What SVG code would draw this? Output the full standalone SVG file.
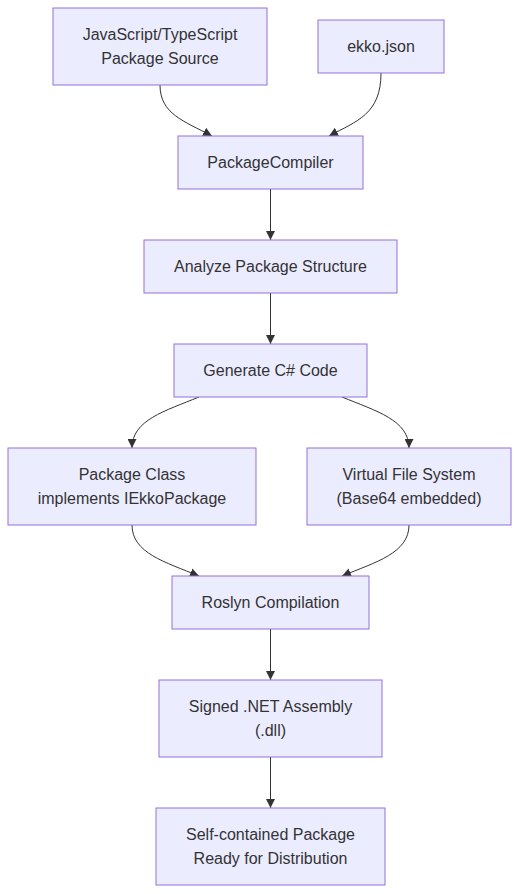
<svg xmlns="http://www.w3.org/2000/svg" width="520" height="894" viewBox="0 0 520 894">
<style>
.n rect{fill:#ECECFF;stroke:#9370DB;stroke-width:1}
.n text{font-family:"Liberation Sans",Arial,sans-serif;font-size:16px;fill:#333;text-anchor:middle}
.e path{fill:none;stroke:#333;stroke-width:1;marker-end:url(#arr)}
</style>
<defs>
<marker id="arr" viewBox="0 0 10 10" refX="10" refY="5" markerUnits="userSpaceOnUse" markerWidth="9" markerHeight="9" orient="auto">
<path d="M0,0 L10,5 L0,10 z" fill="#333"/>
</marker>
</defs>
<rect width="520" height="894" fill="#fff"/>
<g class="e" id="connectors">
<path d="M160,85 C160,114 184,121 212,136"/>
<path d="M381,73 C381,114 357,121 329,136"/>
<path d="M270.5,189 L270.5,240"/>
<path d="M270.5,293 L270.5,344"/>
<path d="M199,397 C165,411 132,420 132,448"/>
<path d="M342,397 C376,411 409,420 409,448"/>
<path d="M132,525 C132,553 165,562 199,576"/>
<path d="M409,525 C409,553 376,562 342,576"/>
<path d="M270.5,629 L270.5,680"/>
<path d="M270.5,757 L270.5,808"/>
</g>
<g class="n" id="nA"><rect x="53" y="8" width="214" height="77"/><text x="160" y="40">JavaScript/TypeScript</text><text x="160" y="64">Package Source</text></g>
<g class="n" id="nB"><rect x="318" y="20" width="126" height="53"/><text x="381" y="52">ekko.json</text></g>
<g class="n" id="nC"><rect x="178" y="136" width="185" height="53"/><text x="270.5" y="168">PackageCompiler</text></g>
<g class="n" id="nD"><rect x="144" y="240" width="253" height="53"/><text x="270.5" y="272">Analyze Package Structure</text></g>
<g class="n" id="nE"><rect x="174" y="344" width="193" height="53"/><text x="270.5" y="376">Generate C# Code</text></g>
<g class="n" id="nF"><rect x="8" y="448" width="248" height="77"/><text x="132" y="480">Package Class</text><text x="132" y="504">implements IEkkoPackage</text></g>
<g class="n" id="nG"><rect x="307" y="448" width="204" height="77"/><text x="409" y="480">Virtual File System</text><text x="409" y="504">(Base64 embedded)</text></g>
<g class="n" id="nH"><rect x="172" y="576" width="197" height="53"/><text x="270.5" y="608">Roslyn Compilation</text></g>
<g class="n" id="nI"><rect x="159" y="680" width="223" height="77"/><text x="270.5" y="712">Signed .NET Assembly</text><text x="270.5" y="736">(.dll)</text></g>
<g class="n" id="nJ"><rect x="156" y="808" width="229" height="77"/><text x="270.5" y="840">Self-contained Package</text><text x="270.5" y="864">Ready for Distribution</text></g>
</svg>
